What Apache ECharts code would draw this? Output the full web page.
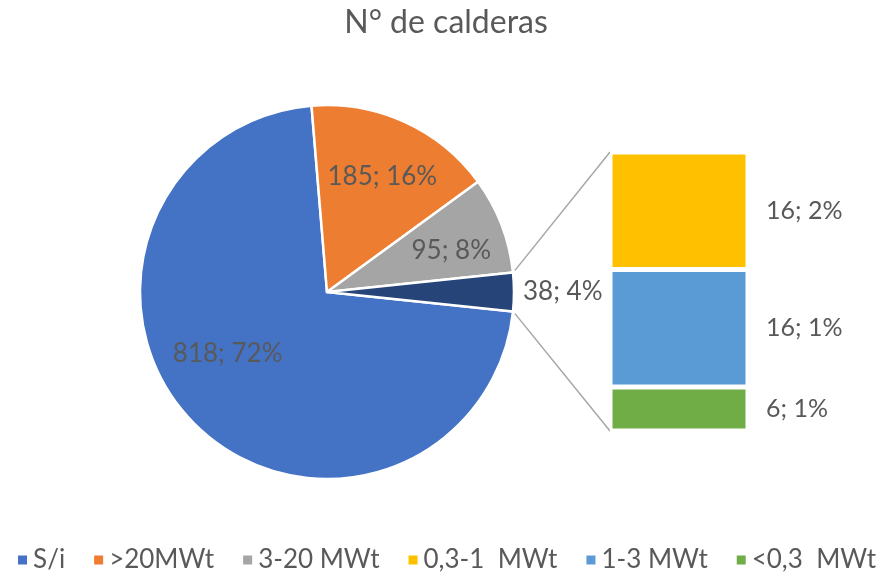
<!DOCTYPE html>
<html>
<head>
<meta charset="utf-8">
<script src="https://cdn.jsdelivr.net/npm/echarts@6/dist/echarts.min.js"></script>
<style>
  html, body { margin: 0; padding: 0; background: #fff; }
  #chart { width: 892px; height: 580px; }
</style>
</head>
<body>
<div id="chart"></div>
<script>
// pie slices (the last one is the "others" slice that is broken out into the bar)
var pieNames = ['S/i', '>20MWt', '3-20 MWt', 'Otros'];
var pieValues = [818, 185, 95, 38];
var pieLabels = ['818; 72%', '185; 16%', '95; 8%', '38; 4%'];
var pieColors = ['#4472C4', '#ED7D31', '#A5A5A5', '#264478'];

// stacked bar, bottom to top
var barNames = ['<0,3  MWt', '1-3 MWt', '0,3-1  MWt'];
var barValues = [6, 16, 16];
var barLabels = ['6; 1%', '16; 1%', '16; 2%'];
var barColors = ['#70AD47', '#5B9BD5', '#FFC000'];

var legendNames = ['S/i', '>20MWt', '3-20 MWt', '0,3-1  MWt', '1-3 MWt', '<0,3  MWt'];

var FONT = 'Lato, "Open Sans", sans-serif';
var GREY = '#595959';

var cx = 327, cy = 292, R = 187;
var barLeft = 610, barTop = 152, barW = 138, barH = 279;

var total = pieValues.reduce(function (a, b) { return a + b; }, 0);
var otherHalf = pieValues[3] / total * 180;   // half angle of the "others" slice
var startAngle = -otherHalf;                  // S/i starts just below 3 o'clock

var chart = echarts.init(document.getElementById('chart'));

var pieData = pieNames.map(function (n, i) {
  var d = { name: n, value: pieValues[i], itemStyle: { color: pieColors[i] } };
  if (i === 3) {
    d.label = { position: 'outside' };
    d.labelLine = { show: false, length: 4, length2: 0 };
  }
  return d;
});

var barSeries = barNames.map(function (n, i) {
  return {
    name: n,
    type: 'bar',
    stack: 'otros',
    barWidth: barW,
    data: [barValues[i]],
    itemStyle: { color: barColors[i], borderColor: '#fff', borderWidth: 2.5 },
    label: {
      show: true,
      position: 'right',
      distance: 18,
      color: GREY,
      fontSize: 25,
      fontFamily: FONT,
      formatter: barLabels[i]
    }
  };
});

// connector lines from the edge of the "others" slice to the bar
var rad = otherHalf * Math.PI / 180;
var px = cx + R * Math.cos(rad);
var pyTop = cy - R * Math.sin(rad);
var pyBot = cy + R * Math.sin(rad);

chart.setOption({
  animation: false,
  title: {
    text: 'N° de calderas',
    left: 'center',
    top: 2,
    textStyle: { fontFamily: FONT, fontSize: 32, fontWeight: 'normal', color: GREY }
  },
  legend: {
    data: legendNames,
    bottom: 2,
    left: 'center',
    icon: 'rect',
    itemWidth: 11,
    itemHeight: 11,
    itemGap: 27,
    textStyle: { fontFamily: FONT, fontSize: 26, color: GREY }
  },
  grid: { left: barLeft, top: barTop, width: barW, height: barH },
  xAxis: { type: 'category', data: [''], show: false },
  yAxis: { type: 'value', min: 0, max: total - pieValues[0] - pieValues[1] - pieValues[2], show: false },
  graphic: [
    { type: 'line', shape: { x1: px + 2, y1: pyTop - 2, x2: barLeft, y2: barTop }, style: { stroke: '#A6A6A6', lineWidth: 1.5 }, z: 1 },
    { type: 'line', shape: { x1: px + 2, y1: pyBot + 2, x2: barLeft, y2: barTop + barH }, style: { stroke: '#A6A6A6', lineWidth: 1.5 }, z: 1 }
  ],
  series: [{
    type: 'pie',
    center: [cx, cy],
    radius: [0, R],
    startAngle: startAngle,
    clockwise: true,
    data: pieData,
    itemStyle: { borderColor: '#fff', borderWidth: 2.5 },
    label: {
      show: true,
      position: 'inside',
      color: GREY,
      fontSize: 26,
      fontFamily: FONT,
      formatter: function (p) { return pieLabels[p.dataIndex]; }
    },
    labelLayout: function (p) {
      if (p.dataIndex === 3) return {};
      var lx = p.labelRect.x + p.labelRect.width / 2;
      var ly = p.labelRect.y + p.labelRect.height / 2;
      if (p.dataIndex === 0) {
        return { dx: (lx - cx) * 0.15 - 20, dy: (ly - cy) * 0.15 - 16 };
      }
      return { dx: (lx - cx) * 0.38, dy: (ly - cy) * 0.38 + 6 };
    },
    emphasis: { disabled: true }
  }].concat(barSeries)
});
</script>
</body>
</html>
